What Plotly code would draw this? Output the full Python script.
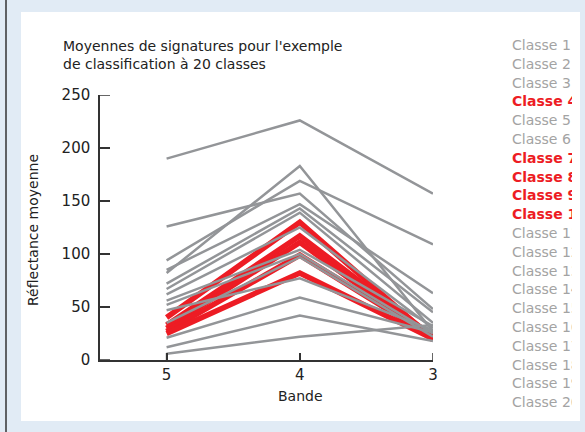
import plotly.graph_objects as go

bands = [5, 4, 3]
classes = [f"Classe {i}" for i in range(1, 21)]
band5 = [190, 126, 94, 40, 82, 85, 33, 30, 27, 25, 72, 67, 62, 56, 52, 47, 35, 21, 12, 6]
band4 = [226, 157, 169, 130, 183, 147, 117, 111, 99, 82, 143, 139, 125, 104, 100, 77, 97, 59, 42, 22]
band3 = [157, 48, 109, 20, 27, 63, 22, 19, 21, 20, 45, 35, 30, 32, 25, 28, 22, 26, 18, 33]
y_ticks = [0, 50, 100, 150, 200, 250]
highlighted = ["Classe 4", "Classe 7", "Classe 8", "Classe 9", "Classe 10"]

GRAY = "#939598"
RED = "#ed1c24"
FONT = "DejaVu Sans"
DARK = "#222222"
AXIS = "#333333"
BLUE = "#e1ebf5"

W, H = 585, 432
L, R, T, B = 100, 152, 95, 72
PW, PH = W - L - R, H - T - B

def px(x):
    return (x - L) / PW

def py(y):
    return (H - B - y) / PH

fig = go.Figure()
for i, name in enumerate(classes):
    red = name in highlighted
    fig.add_trace(go.Scatter(
        x=bands, y=[band5[i], band4[i], band3[i]], mode="lines", name=name,
        line=dict(color=RED if red else GRAY, width=5.5 if red else 2.5),
        showlegend=False, hoverinfo="name+y",
    ))

shapes = [
    dict(type="rect", xref="paper", yref="paper", x0=px(21), x1=px(580), y0=py(421), y1=py(12),
         fillcolor="white", line=dict(width=0), layer="below"),
    dict(type="line", xref="paper", yref="paper", x0=px(6), x1=px(6), y0=py(H + 2), y1=py(-2),
         line=dict(color=AXIS, width=1.5)),
]
# inside tick marks, placed at the axis tick values
for v in y_ticks:
    shapes.append(dict(type="line", xref="paper", yref="y", x0=0, x1=10 / PW, y0=v, y1=v,
                       line=dict(color=AXIS, width=1.5)))
for b in bands:
    shapes.append(dict(type="line", xref="x", yref="paper", x0=b, x1=b, y0=0, y1=7 / PH,
                       line=dict(color=AXIS, width=1.5)))

annotations = [
    dict(text="Moyennes de signatures pour l'exemple<br>de classification à 20 classes",
         xref="paper", yref="paper", x=px(61), y=py(36), xanchor="left", yanchor="top",
         align="left", showarrow=False, font=dict(family=FONT, size=14, color=DARK)),
    dict(text="Réflectance moyenne", xref="paper", yref="paper", x=px(33), y=py(230),
         xanchor="center", yanchor="middle",
         textangle=-90, showarrow=False, font=dict(family=FONT, size=14, color=DARK)),
    dict(text="Bande", xref="paper", yref="paper", x=px(300), y=py(396),
         xanchor="center", yanchor="middle",
         showarrow=False, font=dict(family=FONT, size=14, color=DARK)),
]
for i, name in enumerate(classes):
    red = name in highlighted
    annotations.append(dict(
        text=f"<b>{name}</b>" if red else name, xref="paper", yref="paper",
        x=px(511), y=py(45 + i * 18.8), xanchor="left", yanchor="middle", align="left",
        width=60, height=18, showarrow=False, borderpad=0,
        font=dict(family=FONT, size=14, color=RED if red else "#a3a3a3"),
    ))

fig.update_layout(
    template="none",
    width=W, height=H, margin=dict(l=L, r=R, t=T, b=B, autoexpand=False),
    paper_bgcolor=BLUE, plot_bgcolor="white",
    shapes=shapes, annotations=annotations, showlegend=False,
    xaxis=dict(range=[5.5, 3], tickmode="array", tickvals=bands, ticktext=["5", "4", "3"],
               ticks="inside", ticklen=7, tickwidth=1.5, tickcolor=AXIS, showline=True,
               linecolor=AXIS, linewidth=1.5, showgrid=False, zeroline=False,
               automargin=False, tickfont=dict(family=FONT, size=15, color=DARK)),
    yaxis=dict(range=[0, 250], tickmode="array", tickvals=y_ticks,
               ticks="inside", ticklen=10, tickwidth=1.5, tickcolor=AXIS, showline=True,
               linecolor=AXIS, linewidth=1.5, showgrid=False, zeroline=False,
               automargin=False, ticklabelstandoff=5,
               tickfont=dict(family=FONT, size=15, color=DARK)),
)

fig.write_html("out.html", config={"displayModeBar": False},
               post_script="document.body.style.margin='0';")
